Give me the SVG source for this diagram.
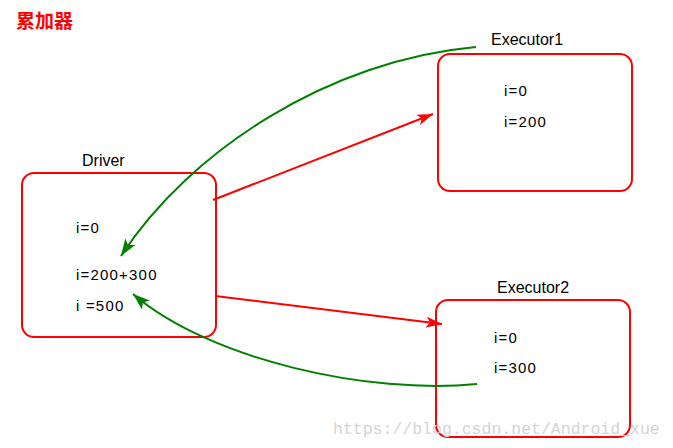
<svg xmlns="http://www.w3.org/2000/svg" width="673" height="448" viewBox="0 0 673 448">
<defs>
<style>
.box{fill:#fff;stroke:#ff0000;stroke-width:2}
.lbl{font-family:"Liberation Sans",Arial,sans-serif;font-size:16px;fill:#000}
.val{font-family:"Liberation Sans",Arial,sans-serif;font-size:15px;fill:#000;letter-spacing:1.2px}
.red{fill:none;stroke:#ff0000;stroke-width:2}
.grn{fill:none;stroke:#008000;stroke-width:2}
</style>
<marker id="ar" viewBox="0 0 16 11" refX="16" refY="5.5" markerWidth="16" markerHeight="11" markerUnits="userSpaceOnUse" orient="auto">
<path d="M0,0 L16,5.5 L0,11 L4,5.5 Z" fill="#ff0000"/>
</marker>
<marker id="ag" viewBox="0 0 17 12" refX="17" refY="6" markerWidth="17" markerHeight="12" markerUnits="userSpaceOnUse" orient="auto">
<path d="M0,0 L17,6 L0,12 L4,6 Z" fill="#008000"/>
</marker>
</defs>
<rect width="673" height="448" fill="#fff"/>
<text x="16" y="28" font-family="'Noto Sans CJK SC',sans-serif" font-size="19" font-weight="bold" fill="#ff0000">累加器</text>
<g id="driver">
<rect class="box" x="22" y="173" width="194" height="164" rx="12"/>
<text class="lbl" x="82" y="166">Driver</text>
<text class="val" x="76" y="233">i=0</text>
<text class="val" x="76" y="280">i=200+300</text>
<text class="val" x="76" y="311">i =500</text>
</g>
<g id="executor1">
<rect class="box" x="438" y="54" width="194" height="137" rx="12"/>
<text class="lbl" x="491" y="45">Executor1</text>
<text class="val" x="504" y="96">i=0</text>
<text class="val" x="504" y="127">i=200</text>
</g>
<g id="executor2">
<rect class="box" x="436" y="300" width="194" height="137" rx="12"/>
<text class="lbl" x="497" y="293">Executor2</text>
<text class="val" x="494" y="343">i=0</text>
<text class="val" x="494" y="373">i=300</text>
</g>
<g id="connectors">
<line class="red" x1="213" y1="200" x2="433" y2="114" marker-end="url(#ar)"/>
<line class="red" x1="215" y1="296" x2="442" y2="324" marker-end="url(#ar)"/>
<path class="grn" d="M476,47 C330,60 190,150 121,256" marker-end="url(#ag)"/>
<path class="grn" d="M477,384 C370,395 210,360 133,294" marker-end="url(#ag)"/>
</g>
<text x="333" y="434" font-family="'Liberation Mono','Courier New',monospace" font-size="16.5" fill="#d4d4d4">https://blog.csdn.net/Android_xue</text>
</svg>
